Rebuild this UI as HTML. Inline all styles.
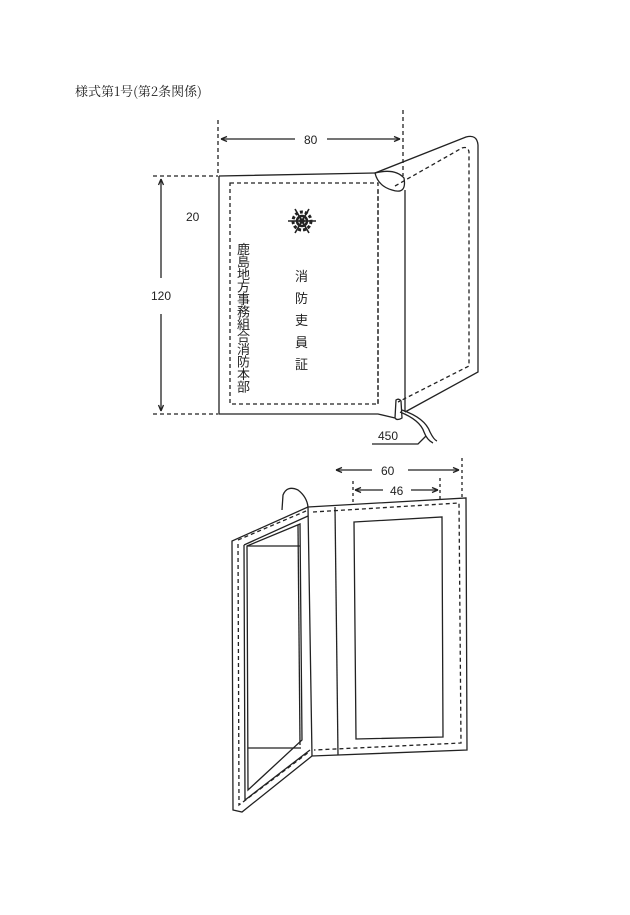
<!DOCTYPE html>
<html><head><meta charset="utf-8"><style>
body{margin:0;background:#fff;}
svg{display:block}
text{font-family:"Liberation Sans","Noto Sans CJK JP",sans-serif;fill:#222}
</style></head><body>
<svg width="630" height="915" viewBox="0 0 630 915" xmlns="http://www.w3.org/2000/svg">
<g stroke="#222" fill="none" stroke-width="1.3">
<text x="75" y="96" font-size="13" stroke="none" style="font-family:'Noto Serif CJK SC','Liberation Serif',serif">様式第1号(第2条関係)</text>

<!-- top dims -->
<line x1="218" y1="120" x2="218" y2="176" stroke-dasharray="4,3"/>
<line x1="403" y1="110" x2="403" y2="176" stroke-dasharray="4,3"/>
<line x1="221" y1="139" x2="295" y2="139"/>
<line x1="327" y1="139" x2="400" y2="139"/>
<path d="M221 139 l6 -2.5 M221 139 l6 2.5 M400 139 l-6 -2.5 M400 139 l-6 2.5"/>
<text x="304" y="144" font-size="12" stroke="none">80</text>
<line x1="153" y1="176" x2="218" y2="176" stroke-dasharray="4,3"/>
<line x1="153" y1="414" x2="218" y2="414" stroke-dasharray="4,3"/>
<line x1="161" y1="179" x2="161" y2="278"/>
<line x1="161" y1="314" x2="161" y2="411"/>
<path d="M161 179 l-2.5 6 M161 179 l2.5 6 M161 411 l-2.5 -6 M161 411 l2.5 -6"/>
<text x="151" y="300" font-size="12" stroke="none">120</text>
<text x="186" y="221" font-size="12" stroke="none">20</text>

<!-- back panel -->
<path d="M375 173 L466 137 Q477 134 478 145 L478 372 L405 412"/>
<path d="M395 186 L462 148 Q468 146 469 152 L469 366 L398 402" stroke-dasharray="4,3"/>
<!-- front cover -->
<path d="M219 176 L375 173 M219 176 L219 414 L378 414 L395 418"/>
<line x1="405" y1="190" x2="405" y2="412"/>
<rect x="230" y="183" width="148" height="221" stroke-dasharray="4,3"/>
<line x1="378" y1="190" x2="378" y2="404" stroke-dasharray="4,3"/>
<path d="M375 173 Q395 168 404 178 Q407 195 392 190 Q378 186 375 173 Z"/>
<!-- string -->
<path d="M395 418 L396 400 Q399 398 401 401 L402 418 Q397 421 395 418"/>
<path d="M402 410 Q425 418 430 432 Q434 440 437 441 M400 412 Q420 420 424 432 Q427 440 433 443"/>
<text x="378" y="440" font-size="12" stroke="none">450</text>
<path d="M372 444 L418 444 L426 436"/>

<!-- snowflake -->
<g transform="translate(302,221)" stroke-width="1.6">
<line x1="-14" y1="0" x2="14" y2="0"/><line x1="-7" y1="-12" x2="7" y2="12"/><line x1="7" y1="-12" x2="-7" y2="12"/>
<circle r="9" stroke-width="3" stroke-dasharray="3,2"/><circle r="5" stroke-width="2.5"/><circle r="2" fill="#222"/>
</g>
<g font-size="13" stroke="none">
<text x="295" y="281">消</text>
<text x="295" y="303">防</text>
<text x="295" y="325">吏</text>
<text x="295" y="347">員</text>
<text x="295" y="369">証</text>
</g>
<g font-size="13" stroke="none">
<text x="237" y="254">鹿</text>
<text x="237" y="266.5">島</text>
<text x="237" y="279">地</text>
<text x="237" y="291.5">方</text>
<text x="237" y="304">事</text>
<text x="237" y="316.5">務</text>
<text x="237" y="329">組</text>
<text x="237" y="341.5">合</text>
<text x="237" y="354">消</text>
<text x="237" y="366.5">防</text>
<text x="237" y="379">本</text>
<text x="237" y="391.5">部</text>
</g>

<!-- bottom dims -->
<line x1="336" y1="470" x2="372" y2="470"/><line x1="408" y1="470" x2="459" y2="470"/>
<path d="M336 470 l6 -2.5 M336 470 l6 2.5 M459 470 l-6 -2.5 M459 470 l-6 2.5"/>
<text x="381" y="475" font-size="12" stroke="none">60</text>
<line x1="462" y1="458" x2="462" y2="497" stroke-dasharray="3,3"/>
<line x1="355" y1="490" x2="383" y2="490"/><line x1="411" y1="490" x2="438" y2="490"/>
<path d="M355 490 l6 -2.5 M355 490 l6 2.5 M438 490 l-6 -2.5 M438 490 l-6 2.5"/>
<text x="390" y="495" font-size="12" stroke="none">46</text>
<line x1="353" y1="481" x2="353" y2="505" stroke-dasharray="3,3"/>
<line x1="440" y1="478" x2="440" y2="500" stroke-dasharray="3,3"/>

<!-- open wallet: right panel -->
<path d="M308 507 L466 498 L467 750 L312 756 Z"/>
<line x1="335" y1="507" x2="338" y2="755"/>
<path d="M313 512 L459 503 L461 743 L314 750" stroke-dasharray="4,3"/>
<path d="M354 522 L442 517 L443 737 L356 739 Z"/>
<!-- cylinder -->
<path d="M282 510 L283 495 Q287 485 298 490 Q307 497 308 507"/>
<!-- left panel -->
<path d="M308 507 L232 541 L233 810 L242 812 L312 756"/>
<path d="M244 545 L308 516 M244 545 L245 800 L310 750"/>
<path d="M238 540 L306 511 M238 544 L239 805 L309 752" stroke-dasharray="4,3"/>
<path d="M247 546 L300 524 L302 740 L248 790 Z"/>
<line x1="298" y1="525" x2="300" y2="745"/>
<line x1="247" y1="546" x2="300" y2="546"/>
<line x1="248" y1="748" x2="301" y2="748"/>
</g>
</svg>
</body></html>
